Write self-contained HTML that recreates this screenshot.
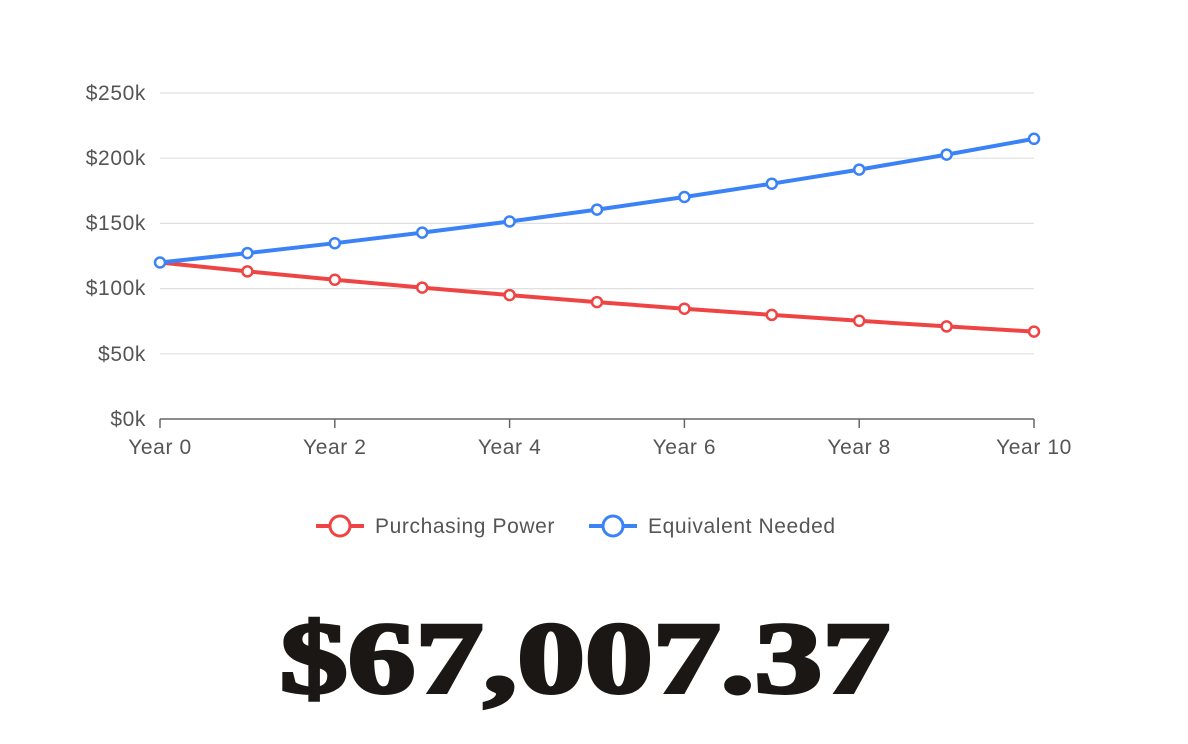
<!DOCTYPE html>
<html><head><style>
html,body{margin:0;padding:0;background:#fff;width:1188px;height:744px;overflow:hidden}
svg{position:absolute;left:0;top:0}
.big{position:absolute;left:0;width:1170px;text-align:center;top:602px;font-family:"Liberation Serif",serif;font-weight:bold;font-size:113px;line-height:113px;color:#1a1715;-webkit-text-stroke:4px #1a1715;transform:scale(1.2,0.9);transform-origin:585px 56px}
</style></head><body>
<svg width="1188" height="744" font-family="Liberation Sans, sans-serif" font-size="21" fill="#555" letter-spacing="0.6">
<g stroke="#e0e0e0" stroke-width="1.2">
<line x1="160" x2="1034" y1="93" y2="93"/><line x1="160" x2="1034" y1="158.2" y2="158.2"/>
<line x1="160" x2="1034" y1="223.4" y2="223.4"/><line x1="160" x2="1034" y1="288.6" y2="288.6"/>
<line x1="160" x2="1034" y1="353.8" y2="353.8"/>
</g>
<line x1="160" x2="1034" y1="419" y2="419" stroke="#666" stroke-width="1.5"/>
<g stroke="#666" stroke-width="1.5">
<line x1="160" x2="160" y1="419" y2="428"/><line x1="334.8" x2="334.8" y1="419" y2="428"/>
<line x1="509.6" x2="509.6" y1="419" y2="428"/><line x1="684.4" x2="684.4" y1="419" y2="428"/>
<line x1="859.2" x2="859.2" y1="419" y2="428"/><line x1="1034" x2="1034" y1="419" y2="428"/>
</g>
<g text-anchor="end">
<text x="146" y="100">$250k</text><text x="146" y="165">$200k</text><text x="146" y="230">$150k</text>
<text x="146" y="295">$100k</text><text x="146" y="361">$50k</text><text x="146" y="426">$0k</text>
</g>
<g text-anchor="middle">
<text x="160" y="454">Year 0</text><text x="334.8" y="454">Year 2</text><text x="509.6" y="454">Year 4</text>
<text x="684.4" y="454">Year 6</text><text x="859.2" y="454">Year 8</text><text x="1034" y="454">Year 10</text>
</g>
<polyline fill="none" stroke="#ef4444" stroke-width="4" points="160,262.5 247.4,271.4 334.8,279.7 422.2,287.6 509.6,295.1 597,302.1 684.4,308.7 771.8,314.9 859.2,320.8 946.6,326.4 1034,331.6"/>
<polyline fill="none" stroke="#3b82f6" stroke-width="4" points="160,262.5 247.4,253.1 334.8,243.2 422.2,232.6 509.6,221.5 597,209.6 684.4,197 771.8,183.7 859.2,169.6 946.6,154.6 1034,138.8"/>
<g fill="#fff" stroke="#ef4444" stroke-width="2.5">
<circle cx="247.4" cy="271.4" r="5"/><circle cx="334.8" cy="279.7" r="5"/><circle cx="422.2" cy="287.6" r="5"/><circle cx="509.6" cy="295.1" r="5"/><circle cx="597" cy="302.1" r="5"/><circle cx="684.4" cy="308.7" r="5"/><circle cx="771.8" cy="314.9" r="5"/><circle cx="859.2" cy="320.8" r="5"/><circle cx="946.6" cy="326.4" r="5"/><circle cx="1034" cy="331.6" r="5"/>
</g>
<g fill="#fff" stroke="#3b82f6" stroke-width="2.5">
<circle cx="160" cy="262.5" r="5"/><circle cx="247.4" cy="253.1" r="5"/><circle cx="334.8" cy="243.2" r="5"/><circle cx="422.2" cy="232.6" r="5"/><circle cx="509.6" cy="221.5" r="5"/><circle cx="597" cy="209.6" r="5"/><circle cx="684.4" cy="197" r="5"/><circle cx="771.8" cy="183.7" r="5"/><circle cx="859.2" cy="169.6" r="5"/><circle cx="946.6" cy="154.6" r="5"/><circle cx="1034" cy="138.8" r="5"/>
</g>
<line x1="316" x2="364" y1="526" y2="526" stroke="#ef4444" stroke-width="4"/>
<circle cx="340" cy="526" r="10" fill="#fff" stroke="#ef4444" stroke-width="3"/>
<text x="375" y="533">Purchasing Power</text>
<line x1="589" x2="637" y1="526" y2="526" stroke="#3b82f6" stroke-width="4"/>
<circle cx="613" cy="526" r="10" fill="#fff" stroke="#3b82f6" stroke-width="3"/>
<text x="648" y="533">Equivalent Needed</text>
</svg>
<div class="big">$67,007.37</div>
</body></html>
